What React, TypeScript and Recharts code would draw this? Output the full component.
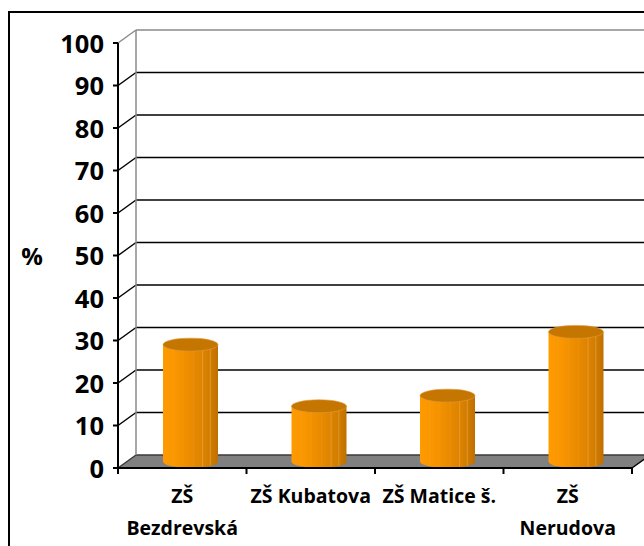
import React from 'react';
import { BarChart, Bar, XAxis, YAxis, CartesianGrid } from 'recharts';

const categories = ['ZŠ Bezdrevská', 'ZŠ Kubatova', 'ZŠ Matice š.', 'ZŠ Nerudova'];
const categoryLabelLines = [['ZŠ', 'Bezdrevská'], ['ZŠ Kubatova'], ['ZŠ Matice š.'], ['ZŠ', 'Nerudova']];
const values = [27.5, 13, 15.5, 30.5];
const yTicks = [0, 10, 20, 30, 40, 50, 60, 70, 80, 90, 100];
const yAxisTitle = '%';

const data = categories.map((name, i) => ({ name, value: values[i] }));

const W = 644;
const H = 546;
const LEFT = 118;
const RIGHT = 632;
const TOP = 43;
const BOTTOM = 468;
const DX = 18;
const DY = 13;
const FONT = '"Open Sans", "DejaVu Sans", sans-serif';

const renderHorizontal = (p: any) => {
  const { x1, x2, y1, key } = p;
  if (Math.abs(y1 - BOTTOM) < 1) {
    return (
      <g key={key}>
        <polygon
          points={`${x1},${y1} ${x2},${y1} ${x2 + DX},${y1 - DY} ${x1 + DX},${y1 - DY}`}
          fill="#808080"
        />
        <line x1={x1 + DX} y1={y1 - DY} x2={x2 + DX} y2={y1 - DY} stroke="#3a3a3a" strokeWidth={1.5} />
        <line x1={x1} y1={y1} x2={x1 + DX} y2={y1 - DY} stroke="#3a3a3a" strokeWidth={1.5} />
        <line x1={x2} y1={y1} x2={x2 + DX} y2={y1 - DY} stroke="#000" strokeWidth={1.5} />
      </g>
    );
  }
  const isTop = Math.abs(y1 - TOP) < 1;
  const color = isTop ? '#8a8a8a' : '#000';
  return (
    <g key={key}>
      <line x1={x1} y1={y1} x2={x1 + DX} y2={y1 - DY} stroke={color} strokeWidth={1.5} />
      <line x1={x1 + DX} y1={y1 - DY} x2={x2 + DX} y2={y1 - DY} stroke={color} strokeWidth={1.5} />
      {isTop && (
        <line x1={x1 + DX} y1={y1 - DY} x2={x1 + DX} y2={BOTTOM - DY} stroke="#8a8a8a" strokeWidth={1.5} />
      )}
    </g>
  );
};

const Cylinder = (p: any) => {
  const { x, y, width, height } = p;
  if (height == null || width == null) return null;
  const rx = width / 2;
  const ry = 6.5;
  const cx = x + width / 2 + 8;
  const topC = y - 6.5;
  const botC = y + height - 6.5;
  const stripes = [0.18, 0.36, 0.55, 0.72, 0.86];
  return (
    <g>
      <path
        d={`M${cx - rx},${topC} L${cx - rx},${botC} A${rx},${ry} 0 0 0 ${cx + rx},${botC} L${cx + rx},${topC} Z`}
        fill="url(#cylGrad)"
      />
      {stripes.map((f, i) => (
        <line
          key={i}
          x1={cx - rx + f * width}
          y1={topC}
          x2={cx - rx + f * width}
          y2={botC + ry * Math.sqrt(Math.max(0, 1 - Math.pow((f * width - rx) / rx, 2)))}
          stroke={i >= 3 ? '#f2b868' : '#f7a830'}
          strokeOpacity={i >= 3 ? 0.55 : 0.35}
          strokeWidth={0.8}
        />
      ))}
      <ellipse cx={cx} cy={topC} rx={rx} ry={ry} fill="#C47600" stroke="#E49A3A" strokeWidth={0.6} />
    </g>
  );
};

const XTick = (p: any) => {
  const { x, index } = p;
  const half = (RIGHT - LEFT) / categories.length / 2;
  const lines = categoryLabelLines[index] || [];
  return (
    <g>
      <line x1={x - half} y1={BOTTOM} x2={x - half} y2={BOTTOM + 6} stroke="#000" strokeWidth={2} />
      {index === categories.length - 1 && (
        <line x1={x + half} y1={BOTTOM} x2={x + half} y2={BOTTOM + 6} stroke="#000" strokeWidth={2} />
      )}
      <text textAnchor="middle" fontFamily={FONT} fontWeight="bold" fontSize={19.5} fill="#000">
        {lines.map((l: string, i: number) => (
          <tspan key={i} x={x} y={BOTTOM + 35 + i * 32}>
            {l}
          </tspan>
        ))}
      </text>
    </g>
  );
};

const YTick = (p: any) => {
  const { x, y, payload } = p;
  return (
    <text x={x} y={y + 9.5} textAnchor="end" fontFamily={FONT} fontWeight="bold" fontSize={25.5} fill="#000">
      {payload.value}
    </text>
  );
};

export default function App() {
  return (
    <div style={{ position: 'fixed', left: 0, top: 0, width: W, height: H, overflow: 'hidden', background: '#fff' }}>
      <div
        style={{
          position: 'absolute',
          left: 8,
          top: 11,
          width: 700,
          height: 600,
          borderLeft: '2.5px solid #000',
          borderTop: '2px solid #000',
        }}
      />
      <div style={{ position: 'absolute', left: 0, top: 0 }}>
        <BarChart
          width={W}
          height={H}
          data={data}
          margin={{ top: TOP, right: W - RIGHT, bottom: 0, left: 18 }}
          barSize={55}
        >
          <defs>
            <linearGradient id="cylGrad" x1="0" y1="0" x2="1" y2="0">
              <stop offset="0" stopColor="#FF9B00" />
              <stop offset="0.25" stopColor="#F89500" />
              <stop offset="0.5" stopColor="#EB8C00" />
              <stop offset="0.72" stopColor="#DD8300" />
              <stop offset="0.88" stopColor="#CF7B00" />
              <stop offset="1" stopColor="#BE6F00" />
            </linearGradient>
          </defs>
          <CartesianGrid vertical={false} horizontal={renderHorizontal} />
          <XAxis
            dataKey="name"
            height={H - BOTTOM}
            axisLine={{ stroke: '#000', strokeWidth: 2 }}
            tickLine={false}
            tick={<XTick />}
            interval={0}
          />
          <YAxis
            domain={[0, 100]}
            ticks={yTicks}
            width={100}
            axisLine={{ stroke: '#000', strokeWidth: 2 }}
            tickLine={{ stroke: '#000', strokeWidth: 2 }}
            tickSize={5}
            tickMargin={9}
            tick={<YTick />}
            interval={0}
            label={{
              value: yAxisTitle,
              content: () => (
                <text x={32} y={265} textAnchor="middle" fontFamily={FONT} fontWeight="bold" fontSize={24} fill="#000">
                  {yAxisTitle}
                </text>
              ),
            }}
          />
          <Bar dataKey="value" shape={<Cylinder />} isAnimationActive={false} />
        </BarChart>
      </div>
    </div>
  );
}
